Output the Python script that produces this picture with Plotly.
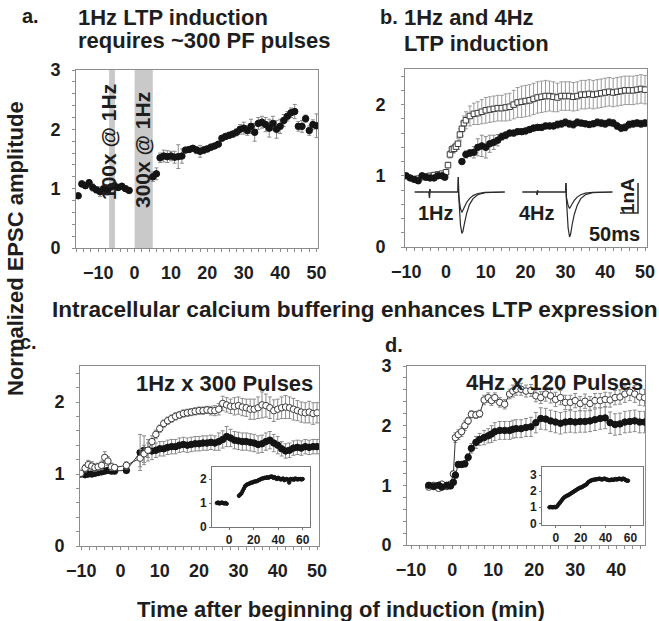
import plotly.graph_objects as go

W, H = 659, 621
FONT = "Liberation Sans, Arial, Helvetica, sans-serif"
TXT = "#1e1e1e"
AX = "#8c8c8c"
ERR = "#8a8a8a"
MK = "#141414"

# ---------------- Panel a: 1Hz LTP induction (filled circles) ----------------
a_pre_t = [-15.5, -14.5, -13.5, -12.5, -11.5, -10.5, -9.5, -8.5, -7.5, -6.5, -5.5, -4.5, -3.5, -2.5, -1.5]
a_pre_v = [0.88, 1.08, 1.05, 1.10, 1.02, 0.98, 0.95, 1.00, 0.96, 1.03, 1.05, 1.02, 1.04, 1.00, 0.97]
a_pre_e = [0.04, 0.05, 0.04, 0.05, 0.06, 0.05, 0.08, 0.06, 0.07, 0.05, 0.06, 0.05, 0.05, 0.04, 0.04]
a_post_t = list(range(5, 51))
a_post_v = [1.20, 1.25, 1.52, 1.55, 1.54, 1.55, 1.53, 1.54, 1.55, 1.65, 1.66, 1.68, 1.65, 1.63, 1.65, 1.67,
            1.70, 1.72, 1.75, 1.85, 1.88, 1.90, 1.92, 1.95, 2.00, 2.02, 1.98, 2.05, 1.95, 2.10, 2.12, 2.08,
            2.02, 2.10, 2.00, 2.05, 2.15, 2.22, 2.28, 2.30, 2.05, 2.05, 2.18, 1.98, 2.08, 2.06]
a_post_e = [0.08, 0.10, 0.08, 0.10, 0.10, 0.08, 0.10, 0.20, 0.12, 0.04, 0.05, 0.04, 0.06, 0.10, 0.06, 0.05,
            0.05, 0.04, 0.04, 0.04, 0.05, 0.05, 0.05, 0.06, 0.08, 0.10, 0.08, 0.12, 0.15, 0.10, 0.10, 0.12,
            0.15, 0.12, 0.15, 0.12, 0.10, 0.08, 0.08, 0.12, 0.08, 0.10, 0.06, 0.08, 0.08, 0.20]
a_band_start = [-7.0, 0.0]
a_band_end = [-5.4, 5.0]
a_band_label = ["100x @ 1Hz", "300x @ 1Hz"]

# ---------------- Panel b: 1Hz (filled) and 4Hz (open squares) ----------------
b_fill_t = [-10, -9, -8, -7, -6, -5, -4, -3, -2, -1, -0.3] + list(range(4, 51))
b_fill_v = [1.00, 0.97, 0.95, 0.93, 1.00, 0.98, 0.97, 0.97, 1.00, 1.00, 0.98,
            1.20, 1.30, 1.32, 1.33, 1.40, 1.42, 1.40, 1.45, 1.47, 1.50, 1.55, 1.57, 1.60, 1.60, 1.62, 1.62,
            1.63, 1.65, 1.67, 1.68, 1.68, 1.70, 1.70, 1.70, 1.72, 1.73, 1.75, 1.73, 1.72, 1.75, 1.74, 1.73,
            1.72, 1.73, 1.75, 1.74, 1.73, 1.75, 1.74, 1.70, 1.67, 1.68, 1.72, 1.73, 1.74, 1.73, 1.74]
b_fill_e = [0.03, 0.03, 0.03, 0.03, 0.03, 0.03, 0.03, 0.03, 0.03, 0.03, 0.03,
            0.03, 0.05, 0.05, 0.08, 0.12, 0.15, 0.15, 0.12, 0.10, 0.08, 0.05, 0.05, 0.04, 0.04, 0.04, 0.04,
            0.04, 0.04, 0.04, 0.04, 0.04, 0.04, 0.04, 0.04, 0.05, 0.05, 0.05, 0.05, 0.05, 0.05, 0.04, 0.04,
            0.04, 0.04, 0.05, 0.05, 0.05, 0.05, 0.05, 0.05, 0.05, 0.05, 0.05, 0.05, 0.05, 0.05, 0.05]
b_open_t = [-7, -6, -5, -4, -3, -2, -1, 0, 0.5, 1, 1.5, 2, 2.5, 3, 3.5, 4, 4.5] + list(range(5, 51))
b_open_v = [0.96, 0.98, 0.99, 1.00, 1.01, 1.02, 1.03, 1.05, 1.15, 1.30, 1.37, 1.38, 1.41, 1.45, 1.58, 1.66, 1.74,
            1.78, 1.84, 1.87, 1.88, 1.90, 1.92, 1.93, 1.94, 1.95, 1.95, 1.96, 1.97, 2.00, 2.03, 2.04, 2.05,
            2.06, 2.08, 2.10, 2.11, 2.12, 2.12, 2.11, 2.10, 2.12, 2.12, 2.12, 2.11, 2.12, 2.14, 2.14, 2.15,
            2.14, 2.15, 2.16, 2.17, 2.18, 2.17, 2.18, 2.19, 2.20, 2.20, 2.20, 2.21, 2.22, 2.21]
b_open_e = [0.03, 0.03, 0.03, 0.03, 0.03, 0.03, 0.03, 0.03, 0.04, 0.05, 0.05, 0.06, 0.06, 0.08, 0.08, 0.10, 0.10,
            0.12, 0.14, 0.15, 0.16, 0.17, 0.18, 0.18, 0.18, 0.18, 0.18, 0.19, 0.19, 0.20, 0.21, 0.22, 0.22,
            0.22, 0.22, 0.22, 0.22, 0.22, 0.21, 0.21, 0.20, 0.20, 0.20, 0.20, 0.20, 0.20, 0.20, 0.20, 0.20,
            0.20, 0.20, 0.20, 0.20, 0.20, 0.20, 0.20, 0.20, 0.20, 0.20, 0.20, 0.20, 0.20, 0.20]

# EPSC example sweeps (ms, nA)
sweep_t = [0, 40, 41, 42, 43, 120, 121, 122, 124, 127, 131, 134, 138, 144, 152, 162, 175, 195, 250]
hz1_pre = [0, 0, -0.2, 0.1, 0, 0, 0.5, 0.0, -0.3, -0.55, -0.68, -0.62, -0.5, -0.35, -0.22, -0.12, -0.05, -0.01, 0]
hz1_post = [0, 0, -0.2, 0.1, 0, 0, 0.5, -0.1, -0.6, -1.1, -1.38, -1.3, -1.05, -0.72, -0.42, -0.22, -0.09, -0.02, 0]
hz4_pre = [0, 0, -0.1, 0.05, 0, 0, 0.3, -0.15, -0.3, -0.45, -0.55, -0.5, -0.4, -0.28, -0.17, -0.09, -0.04, -0.01, 0]
hz4_post = [0, 0, -0.1, 0.05, 0, 0, 0.3, -0.2, -0.7, -1.2, -1.5, -1.4, -1.1, -0.75, -0.45, -0.22, -0.09, -0.02, 0]
sweep_offset = {"1Hz": 27, "4Hz": 326}
scalebar_ms = 50
scalebar_nA = 1
scalebar_corner = (647, -0.7)

# ---------------- Panel c: 1Hz x 300 pulses ----------------
c_pre_t = [-10.1, -9.0, -8.2, -7.3, -6.5, -5.7, -4.8, -4.0, -3.2, -2.3, -1.5, 1.5]
c_post_t = list(range(5, 51))
c_open_v = [1.01, 1.08, 1.13, 1.11, 1.09, 1.10, 1.12, 1.23, 1.18, 1.10, 1.09, 1.12,
            1.22, 1.28, 1.33, 1.45, 1.55, 1.63, 1.70, 1.74, 1.77, 1.80, 1.82, 1.84, 1.85, 1.86, 1.87, 1.88,
            1.88, 1.89, 1.88, 1.88, 1.90, 1.98, 1.96, 1.94, 1.94, 1.95, 1.93, 1.92, 1.90, 1.90, 1.92, 1.96,
            1.95, 1.92, 1.88, 1.90, 1.92, 1.93, 1.92, 1.90, 1.88, 1.86, 1.85, 1.86, 1.84, 1.85]
c_open_e = [0.02, 0.05, 0.06, 0.06, 0.05, 0.05, 0.06, 0.08, 0.06, 0.05, 0.04, 0.05,
            0.12, 0.12, 0.10, 0.08, 0.06, 0.05, 0.05, 0.05, 0.05, 0.05, 0.05, 0.05, 0.05, 0.05, 0.05, 0.05,
            0.05, 0.05, 0.06, 0.07, 0.08, 0.10, 0.10, 0.10, 0.12, 0.12, 0.12, 0.12, 0.14, 0.14, 0.15, 0.18,
            0.16, 0.15, 0.15, 0.14, 0.15, 0.16, 0.15, 0.15, 0.14, 0.14, 0.14, 0.15, 0.15, 0.14]
c_fill_v = [1.00, 0.99, 1.00, 1.00, 1.01, 1.02, 1.03, 1.04, 1.05, 1.04, 1.04, 1.05,
            1.30, 1.33, 1.33, 1.32, 1.33, 1.35, 1.35, 1.37, 1.38, 1.38, 1.40, 1.41, 1.40, 1.41, 1.42, 1.42,
            1.43, 1.43, 1.44, 1.43, 1.45, 1.48, 1.52, 1.50, 1.47, 1.46, 1.45, 1.45, 1.44, 1.43, 1.41, 1.42,
            1.45, 1.47, 1.43, 1.40, 1.35, 1.32, 1.33, 1.36, 1.37, 1.36, 1.38, 1.37, 1.38, 1.38]
c_fill_e = [0.03, 0.03, 0.03, 0.03, 0.03, 0.03, 0.03, 0.03, 0.03, 0.03, 0.03, 0.03,
            0.25, 0.20, 0.15, 0.12, 0.10, 0.10, 0.10, 0.10, 0.10, 0.10, 0.10, 0.10, 0.10, 0.10, 0.10, 0.10,
            0.10, 0.10, 0.10, 0.10, 0.12, 0.12, 0.14, 0.12, 0.12, 0.12, 0.12, 0.12, 0.12, 0.12, 0.12, 0.12,
            0.12, 0.12, 0.12, 0.12, 0.10, 0.10, 0.10, 0.10, 0.10, 0.10, 0.10, 0.10, 0.10, 0.10]
c_inset_t = [-10, -9, -8, -7, -6, -5, -4, -3, -2] + list(range(8, 61))
c_inset_v = [1.00, 1.02, 0.98, 1.00, 1.02, 1.00, 0.98, 1.00, 0.97,
             1.30, 1.35, 1.40, 1.50, 1.60, 1.70, 1.75, 1.78, 1.80, 1.82, 1.85, 1.85, 1.88, 1.90, 1.90, 1.92,
             1.95, 1.97, 2.00, 2.02, 2.03, 2.05, 2.05, 2.07, 2.05, 2.08, 2.10, 2.10, 2.05, 2.08, 2.03, 2.00,
             2.05, 2.02, 1.98, 2.00, 2.02, 1.95, 1.98, 2.00, 1.97, 1.85, 2.00, 1.98, 2.00, 1.97, 2.02, 2.00,
             1.98, 2.00, 2.00, 1.98, 2.00]

# ---------------- Panel d: 4Hz x 120 pulses ----------------
d_t = [-5.7, -4.5, -3.3, -2.5, -1.3, -0.4, 0.3, 0.8, 1.5, 2.3, 3.1, 3.9, 4.7, 5.8, 6.7, 7.8, 8.8, 9.6,
       10.4, 11.6, 12.8, 14.0, 14.8, 15.6, 16.8, 18.0, 19.2, 20.4, 21.6, 22.8, 24.0, 25.2, 26.4, 27.6,
       28.8, 30.0, 31.2, 32.4, 33.6, 34.8, 36.1, 37.3, 38.5, 39.7, 40.9, 42.1, 43.3, 44.5, 45.7, 46.9]
d_open_v = [0.97, 1.00, 0.95, 1.02, 0.98, 1.02, 1.19, 1.80, 1.85, 1.90, 2.00, 2.08, 2.19, 2.18, 2.20, 2.43,
            2.47, 2.42, 2.47, 2.39, 2.36, 2.53, 2.58, 2.61, 2.61, 2.58, 2.59, 2.50, 2.47, 2.53, 2.50, 2.44,
            2.47, 2.39, 2.39, 2.42, 2.37, 2.41, 2.37, 2.42, 2.42, 2.44, 2.43, 2.47, 2.48, 2.53, 2.56, 2.53,
            2.48, 2.47]
d_open_e = [0.03, 0.03, 0.03, 0.03, 0.03, 0.03, 0.05, 0.08, 0.08, 0.08, 0.08, 0.06, 0.06, 0.06, 0.06, 0.08,
            0.08, 0.08, 0.08, 0.08, 0.08, 0.08, 0.10, 0.10, 0.10, 0.10, 0.10, 0.10, 0.10, 0.12, 0.12, 0.12,
            0.12, 0.12, 0.12, 0.12, 0.12, 0.12, 0.12, 0.12, 0.12, 0.12, 0.12, 0.12, 0.12, 0.14, 0.14, 0.14,
            0.14, 0.14]
d_fill_v = [1.00, 0.98, 1.00, 0.97, 1.00, 0.99, 1.05, 1.17, 1.35, 1.35, 1.36, 1.47, 1.62, 1.72, 1.77, 1.80,
            1.83, 1.86, 1.90, 1.92, 1.92, 1.92, 1.94, 1.95, 1.95, 1.97, 1.98, 2.05, 2.12, 2.11, 2.08, 2.06,
            2.04, 2.06, 2.07, 2.06, 2.07, 2.07, 2.08, 2.10, 2.12, 2.13, 2.05, 2.02, 2.03, 2.06, 2.07, 2.08,
            2.06, 2.06]
d_fill_e = [0.02, 0.02, 0.02, 0.02, 0.02, 0.02, 0.03, 0.04, 0.05, 0.05, 0.05, 0.06, 0.08, 0.10, 0.10, 0.12,
            0.12, 0.14, 0.15, 0.15, 0.15, 0.15, 0.15, 0.15, 0.15, 0.15, 0.16, 0.17, 0.18, 0.18, 0.18, 0.18,
            0.18, 0.18, 0.18, 0.18, 0.18, 0.18, 0.18, 0.18, 0.18, 0.18, 0.18, 0.18, 0.18, 0.18, 0.18, 0.18,
            0.18, 0.18]
d_inset_t = [-5, -4, -3, -2, -1] + list(range(0, 59))
d_inset_v = [1.00, 1.02, 1.00, 1.00, 1.02,
             1.00, 1.05, 1.15, 1.25, 1.35, 1.45, 1.55, 1.62, 1.68, 1.72, 1.75, 1.80, 1.85, 1.90, 1.95, 2.00,
             2.05, 2.10, 2.15, 2.20, 2.22, 2.25, 2.30, 2.35, 2.38, 2.45, 2.55, 2.60, 2.65, 2.68, 2.70, 2.72,
             2.72, 2.75, 2.75, 2.78, 2.75, 2.72, 2.75, 2.78, 2.75, 2.72, 2.70, 2.68, 2.70, 2.72, 2.70, 2.72,
             2.75, 2.72, 2.75, 2.78, 2.75, 2.72, 2.78, 2.75, 2.70, 2.65, 2.65]

time_ticks = [-10, 0, 10, 20, 30, 40, 50]
inset_time_ticks = [0, 20, 40, 60]

# ---------------- geometry (pixels of the 659x621 canvas) ----------------
def xdom(l, r):
    return [l / W, r / W]


def ydom(top, bottom):
    return [1 - bottom / H, 1 - top / H]


def px(x):
    return x / W


def py(y):
    return 1 - y / H


fig = go.Figure()


def series(xa, ya, t, v, e, symbol, fill, size, lines=False, ecol=ERR, ewidth=2, lcol=MK):
    fig.add_trace(go.Scatter(
        x=t, y=v, xaxis=xa, yaxis=ya,
        mode="lines+markers" if lines else "markers",
        line=dict(color="#333333", width=1),
        marker=dict(symbol=symbol, size=size, color=fill, line=dict(color=lcol, width=1)),
        error_y=dict(type="data", array=e, visible=e is not None, color=ecol, thickness=1, width=ewidth),
        showlegend=False, hoverinfo="skip"))


# panel a
series("x", "y", a_pre_t + a_post_t, a_pre_v + a_post_v, a_pre_e + a_post_e, "circle", MK, 6.5)
# panel b
series("x2", "y2", b_open_t, b_open_v, b_open_e, "square", "white", 5.5, ecol="#9a9a9a", lcol="#3a3a3a")
series("x2", "y2", b_fill_t, b_fill_v, b_fill_e, "circle", MK, 6.5)
# panel b sweeps
for name, pre, post in [("1Hz", hz1_pre, hz1_post), ("4Hz", hz4_pre, hz4_post)]:
    for trace_v in (post, pre):
        fig.add_trace(go.Scatter(x=[t + sweep_offset[name] for t in sweep_t], y=trace_v,
                                 xaxis="x5", yaxis="y5", mode="lines",
                                 line=dict(color="#2a2a2a", width=1.2), showlegend=False, hoverinfo="skip"))
cx, cy = scalebar_corner
fig.add_trace(go.Scatter(x=[cx - scalebar_ms, cx, cx], y=[cy, cy, cy + scalebar_nA], xaxis="x5", yaxis="y5",
                         mode="lines", line=dict(color="#2a2a2a", width=1.5), showlegend=False, hoverinfo="skip"))
# panel c
series("x3", "y3", c_pre_t + c_post_t, c_fill_v, c_fill_e, "circle", MK, 6.5, lines=True)
series("x3", "y3", c_pre_t + c_post_t, c_open_v, c_open_e, "circle", "white", 6.5, lines=True, lcol="#3a3a3a")
series("x6", "y6", c_inset_t, c_inset_v, None, "circle", MK, 3.5)
# panel d
series("x4", "y4", d_t, d_open_v, d_open_e, "circle", "white", 6.5, lines=True, lcol="#3a3a3a")
series("x4", "y4", d_t, d_fill_v, d_fill_e, "circle", MK, 6.5, lines=True)
series("x7", "y7", d_inset_t, d_inset_v, None, "circle", MK, 3.5)

tickfont = dict(family=FONT, size=18, color=TXT, weight="bold")
smallfont = dict(family=FONT, size=12, color=TXT, weight="bold")


def main_x(dom, rng):
    return dict(domain=dom, range=rng, showline=True, mirror=True, linecolor=AX, linewidth=1,
                ticks="outside", ticklen=3, tickcolor=AX, showgrid=False, zeroline=False, automargin=False,
                tickvals=time_ticks, tickfont=tickfont, ticklabelstandoff=5,
                minor=dict(ticks="outside", ticklen=3, tickcolor=AX, dtick=2, tick0=0), fixedrange=True)


def main_y(dom, rng, anchor, standoff=8):
    return dict(domain=dom, range=rng, anchor=anchor, showline=True, mirror=True, linecolor=AX, linewidth=1,
                ticks="outside", ticklen=3, tickcolor=AX, showgrid=False, zeroline=False, automargin=False,
                dtick=1, tick0=0, tickfont=tickfont, ticklabelstandoff=standoff,
                minor=dict(ticks="outside", ticklen=3, tickcolor=AX, dtick=0.2, tick0=0), fixedrange=True)


def inset_x(dom, rng):
    return dict(domain=dom, range=rng, showline=True, mirror=True, linecolor="#777777", linewidth=1,
                ticks="outside", ticklen=2, tickcolor="#777777", showgrid=False, zeroline=False,
                automargin=False, tickvals=inset_time_ticks, tickfont=smallfont, ticklabelstandoff=0,
                fixedrange=True)


def inset_y(dom, rng, anchor, dt=1):
    return dict(domain=dom, range=rng, anchor=anchor, showline=True, mirror=True, linecolor="#777777",
                linewidth=1, ticks="outside", ticklen=2, tickcolor="#777777", showgrid=False, zeroline=False,
                automargin=False, dtick=dt, tick0=0, tickfont=smallfont, ticklabelstandoff=0, fixedrange=True)


dom_a = (xdom(76, 318), ydom(70, 248))
dom_b = (xdom(405, 647), ydom(69, 247))
dom_c = (xdom(80, 319), ydom(366, 546))
dom_d = (xdom(407, 645), ydom(366, 545))
dom_ci = (xdom(212, 310), ydom(467, 527))
dom_di = (xdom(542, 643), ydom(467, 525))

fig.update_layout(
    width=W, height=H, margin=dict(l=0, r=0, t=0, b=0, autoexpand=False),
    paper_bgcolor="white", plot_bgcolor="rgba(0,0,0,0)", showlegend=False, hovermode=False,
    font=dict(family=FONT, color=TXT),
    xaxis=main_x(dom_a[0], [-16.1, 50.4]), yaxis=main_y(dom_a[1], [0, 3], "x"),
    xaxis2=dict(main_x(dom_b[0], [-10.3, 50.5]), anchor="y2"), yaxis2=main_y(dom_b[1], [0, 2.5], "x2", 12),
    xaxis3=dict(main_x(dom_c[0], [-10.3, 50.5]), anchor="y3"), yaxis3=main_y(dom_c[1], [0, 2.5], "x3"),
    xaxis4=dict(main_x(dom_d[0], [-11, 47]), anchor="y4"), yaxis4=main_y(dom_d[1], [0, 3], "x4"),
    xaxis5=dict(domain=dom_b[0], range=[0, 672], visible=False, anchor="y5", fixedrange=True, automargin=False),
    yaxis5=dict(domain=dom_b[1], range=[-1.8333, 4.1], visible=False, anchor="x5", fixedrange=True,
                automargin=False),
    xaxis6=dict(inset_x(dom_ci[0], [-14, 66]), anchor="y6"), yaxis6=inset_y(dom_ci[1], [0, 2.5], "x6"),
    xaxis7=dict(inset_x(dom_di[0], [-11, 70]), anchor="y7"), yaxis7=inset_y(dom_di[1], [-0.1, 3.5], "x7"),
)

# stimulation bands in panel a
for s, e_ in zip(a_band_start, a_band_end):
    fig.add_shape(type="rect", xref="x", yref="y domain", x0=s, x1=e_, y0=0, y1=1,
                  fillcolor="#c9c9c9", line=dict(width=0), layer="below")


def label(text, x, y, size=22, xanchor="left", angle=0):
    fig.add_annotation(text=text, x=px(x), y=py(y), xref="paper", yref="paper", showarrow=False,
                       xanchor=xanchor, yanchor="middle", textangle=angle,
                       font=dict(family=FONT, size=size, color=TXT, weight="bold"))


label("a.", 20, 16, size=20)
label("1Hz LTP induction", 76, 17)
label("requires ~300 PF pulses", 76, 41)
label("b.", 378, 17, size=20)
label("1Hz and 4Hz", 402, 17)
label("LTP induction", 402, 44)
label("Intracellular calcium buffering enhances LTP expression", 50, 309, size=22.6)
label("c.", 18, 342, size=20)
label("d.", 383, 345, size=20)
label("1Hz x 300 Pulses", 315, 383, xanchor="right")
label("4Hz x 120 Pulses", 645, 382, xanchor="right")
label("Normalized EPSC amplitude", 15, 249, xanchor="center", angle=-90)
label("Time after beginning of induction (min)", 341, 609, xanchor="center")
label(a_band_label[0], 108, 142, size=21, xanchor="center", angle=-90)
label(a_band_label[1], 143, 150, size=21, xanchor="center", angle=-90)
label("1Hz", 436, 213, size=20, xanchor="center")
label("4Hz", 537, 213, size=20, xanchor="center")
label("1nA", 627, 196, size=19, xanchor="center", angle=-90)
label("50ms", 614, 234, size=20, xanchor="center")

fig.write_html("out.html", config={"displayModeBar": False, "staticPlot": True},
               post_script="document.body.style.margin='0';document.body.style.overflow='hidden';")
